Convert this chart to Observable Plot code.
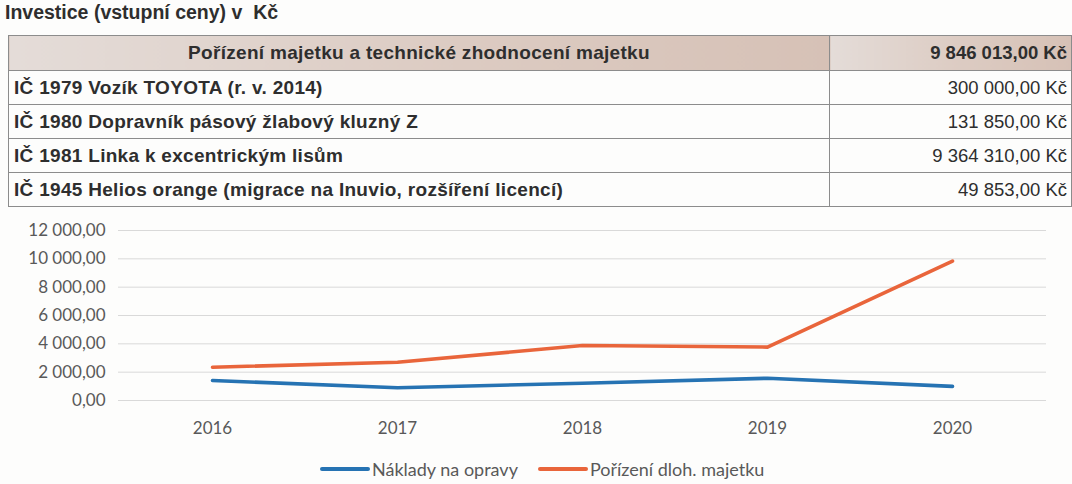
<!DOCTYPE html>
<html>
<head>
<meta charset="utf-8">
<script src="https://cdn.jsdelivr.net/npm/d3@7"></script>
<script src="https://cdn.jsdelivr.net/npm/@observablehq/plot@0.6"></script>
<style>
  html, body { margin: 0; padding: 0; background: #fdfdfc; }
  body { width: 1072px; height: 484px; position: relative; overflow: hidden; font-family: "Liberation Sans", Arial, sans-serif; }
  #title { position: absolute; left: 5px; top: 1px; font-weight: bold; font-size: 19.5px; color: #2e2e2e; white-space: pre; }
  table { position: absolute; left: 8px; top: 35px; width: 1064px; border-collapse: collapse; font-size: 18.5px; color: #2e2e2e; }
  td { border: 1px solid #8c8c8c; padding: 0 5px; height: 34px; box-sizing: border-box; white-space: nowrap; }
  td.name { font-weight: bold; letter-spacing: 0.3px; font-size: 19px; }
  tr.head td { height: 35px; font-weight: bold; background: linear-gradient(90deg, #e4dcd8, #dccbc2 55%, #d6c1b6); }
  td.val { width: 242px; text-align: right; padding-right: 4px; }
  tr.head td.name { text-align: center; }
  #chart { position: absolute; left: 0; top: 215px; }
  #legend { position: absolute; left: 320px; top: 458px; font-family: Lato, sans-serif; font-size: 18px; color: #595959; display: flex; align-items: center; }
  #legend .sw { display: inline-block; width: 50px; height: 4px; border-radius: 2px; margin-right: 2px; }
  #legend .it { display: flex; align-items: center; margin-right: 20px; }
</style>
</head>
<body>
<div id="title"></div>
<table id="tbl"></table>
<div id="chart"></div>
<div id="legend"></div>
<script>
// ---- Data ----
const titleText = "Investice (vstupní ceny) v  Kč";
const headerName = "Pořízení majetku a technické zhodnocení majetku";
const headerValue = "9 846 013,00 Kč";
const itemNames = [
  "IČ 1979 Vozík TOYOTA (r. v. 2014)",
  "IČ 1980 Dopravník pásový žlabový kluzný Z",
  "IČ 1981 Linka k excentrickým lisům",
  "IČ 1945 Helios orange (migrace na Inuvio, rozšíření licencí)"
];
const itemValues = ["300 000,00 Kč", "131 850,00 Kč", "9 364 310,00 Kč", "49 853,00 Kč"];

const years = ["2016", "2017", "2018", "2019", "2020"];
const naklady = [1410, 900, 1220, 1570, 1000];
const porizeni = [2350, 2700, 3880, 3770, 9846];
const seriesNames = ["Náklady na opravy", "Pořízení dloh. majetku"];
const seriesColors = ["#2673b3", "#e9653b"];
const yTicks = [0, 2000, 4000, 6000, 8000, 10000, 12000];

// ---- Title & table ----
document.getElementById("title").textContent = titleText;
const tbl = document.getElementById("tbl");
function addRow(name, value, cls) {
  const tr = document.createElement("tr");
  tr.className = cls;
  const a = document.createElement("td"); a.className = "name"; a.textContent = name;
  const b = document.createElement("td"); b.className = "val"; b.textContent = value;
  tr.append(a, b); tbl.append(tr);
}
addRow(headerName, headerValue, "head");
itemNames.forEach((n, i) => addRow(n, itemValues[i], "item"));

// ---- Chart ----
const rows = [];
years.forEach((y, i) => rows.push({year: y, value: naklady[i], series: seriesNames[0]}));
years.forEach((y, i) => rows.push({year: y, value: porizeni[i], series: seriesNames[1]}));

const loc = d3.formatLocale({decimal: ",", thousands: " ", grouping: [3], currency: ["", ""]});
const fmt = loc.format(",.2f");

const chart = Plot.plot({
  width: 1072,
  height: 235,
  marginTop: 15,
  marginBottom: 50,
  marginLeft: 118,
  marginRight: 26,
  style: {fontFamily: "Lato, sans-serif", fontSize: "17px", color: "#595959", background: "transparent"},
  x: {type: "point", domain: years, padding: 0.5, label: null},
  y: {domain: [0, 12000], label: null},
  color: {domain: seriesNames, range: seriesColors},
  marks: [
    Plot.gridY(yTicks, {stroke: "#d9d9d9", strokeOpacity: 1, strokeWidth: 1}),
    Plot.axisY(yTicks, {tickSize: 0, tickPadding: 13, tickFormat: fmt, fontSize: 17, fill: "#595959"}),
    Plot.axisX({tickSize: 0, tickPadding: 21, fontSize: 17, fill: "#595959"}),
    Plot.line(rows, {x: "year", y: "value", z: "series", stroke: "series", strokeWidth: 3.6, strokeLinejoin: "round", strokeLinecap: "round"})
  ]
});
document.getElementById("chart").append(chart);

// ---- Legend ----
const lg = document.getElementById("legend");
seriesNames.forEach((n, i) => {
  const it = document.createElement("span"); it.className = "it";
  const sw = document.createElement("span"); sw.className = "sw"; sw.style.background = seriesColors[i];
  const tx = document.createElement("span"); tx.textContent = n;
  it.append(sw, tx); lg.append(it);
});
</script>
</body>
</html>
